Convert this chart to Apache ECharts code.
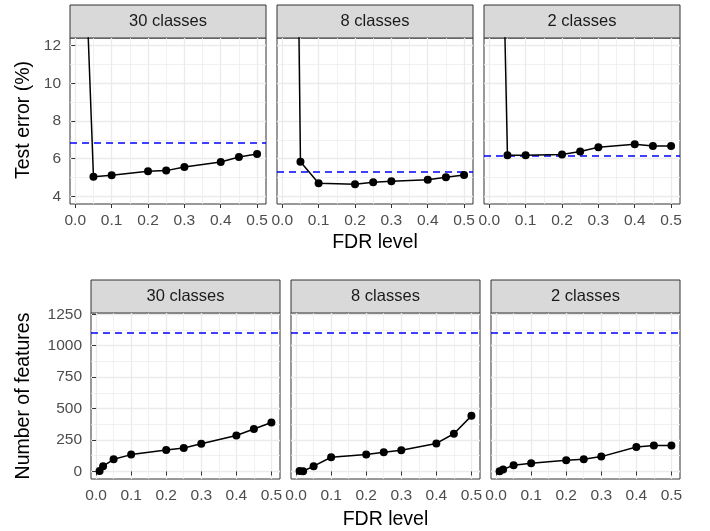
<!DOCTYPE html>
<html>
<head>
<meta charset="utf-8">
<script src="https://cdn.jsdelivr.net/npm/echarts@6/dist/echarts.min.js"></script>
<style>
  html, body { margin: 0; padding: 0; background: #fff; }
  #chart { width: 710px; height: 531px; }
</style>
</head>
<body>
<div id="chart"></div>
<script>
// Data
const classLabels = ['30 classes', '8 classes', '2 classes'];
const fdrLevels = [0.01, 0.02, 0.05, 0.1, 0.2, 0.25, 0.3, 0.4, 0.45, 0.5];

// test error (%) per FDR level; the first two points sit far above the plotted range
const errors30 = [22, 20.5, 5.04, 5.12, 5.33, 5.37, 5.56, 5.83, 6.09, 6.25];
const errors8 = [60, 55, 5.84, 4.70, 4.65, 4.75, 4.81, 4.89, 5.02, 5.14];
const errors2 = [35, 33.5, 6.19, 6.19, 6.23, 6.38, 6.61, 6.77, 6.68, 6.68];

// number of selected features per FDR level
const features30 = [3, 42, 97, 134, 171, 187, 221, 286, 337, 389];
const features8 = [3, 2, 42, 113, 134, 152, 168, 223, 300, 442];
const features2 = [2, 16, 50, 66, 89, 97, 118, 195, 207, 207];

// dashed reference lines (all features)
const baselineError = [6.86, 5.32, 6.17];
const baselineFeatures = [1104, 1104, 1104];

// tick labels
const fdrTicks = [0, 0.1, 0.2, 0.3, 0.4, 0.5];
const fdrMinor = [0.05, 0.15, 0.25, 0.35, 0.45];
const errorTicks = [4, 6, 8, 10, 12];
const errorMinor = [5, 7, 9, 11];
const featureTicks = [0, 250, 500, 750, 1000, 1250];
const featureMinor = [125, 375, 625, 875, 1125];

const FONT = '"Liberation Sans", Arial, Helvetica, sans-serif';
const container = echarts.init(document.getElementById('chart'));

/*
* Layout of the six panels
*/
const panels = [
    { left: 70,  top: 38,  width: 196, height: 166, row: 0 },
    { left: 277, top: 38,  width: 196, height: 166, row: 0 },
    { left: 484, top: 38,  width: 196, height: 166, row: 0 },
    { left: 91,  top: 313, width: 189, height: 166, row: 1 },
    { left: 291, top: 313, width: 189, height: 166, row: 1 },
    { left: 491, top: 313, width: 189, height: 166, row: 1 }
];
const X_RANGE = [-0.0145, 0.5245];
const Y_RANGE = [[3.6, 12.4], [-60, 1260]];

// one axis for the major grid (ticks + labels), one hidden axis for the minor grid
const axisPair = (gridIndex, range, major, minor, fmt, showLabels) => {
    const main = {
        type: 'value', gridIndex: gridIndex, min: range[0], max: range[1],
        axisLine: { show: false },
        axisTick: { show: showLabels, length: 4, customValues: major, lineStyle: { color: '#333333', width: 1 } },
        axisLabel: { show: showLabels, customValues: major, formatter: fmt, color: '#4D4D4D', fontSize: 15.5, fontFamily: FONT, margin: 9 },
        splitLine: { show: true, lineStyle: { color: '#EBEBEB', width: 1.3 } }
    };
    const sub = {
        type: 'value', gridIndex: gridIndex, min: range[0], max: range[1],
        axisLine: { show: false },
        axisTick: { show: false, customValues: minor },
        axisLabel: { show: false },
        splitLine: { show: true, lineStyle: { color: '#EDEDED', width: 0.8 } }
    };
    return [main, sub];
};

const grids = [], xAxes = [], yAxes = [], series = [], graphics = [];
const seriesValues = [errors30, errors8, errors2, features30, features8, features2];
const baselines = baselineError.concat(baselineFeatures);

panels.forEach((p, g) => {
    grids.push({
        left: p.left, top: p.top, width: p.width, height: p.height,
        show: true, backgroundColor: '#FFFFFF', borderColor: '#333333', borderWidth: 1,
        containLabel: false, outerBoundsMode: 'none'
    });
    xAxes.push(...axisPair(g, X_RANGE, fdrTicks, fdrMinor, (v) => v.toFixed(1), true));
    yAxes.push(...axisPair(g, Y_RANGE[p.row], p.row === 0 ? errorTicks : featureTicks,
        p.row === 0 ? errorMinor : featureMinor, (v) => String(v), g % 3 === 0));

    const values = seriesValues[g];
    series.push({
        type: 'line',
        xAxisIndex: 2 * g,
        yAxisIndex: 2 * g,
        data: fdrLevels.map((x, i) => [x, values[i]]),
        symbol: 'circle',
        symbolSize: 8,
        showAllSymbol: true,
        clip: true,
        silent: true,
        z: 3,
        lineStyle: { color: '#000000', width: 1.5 },
        itemStyle: { color: '#000000' },
        markLine: {
            symbol: ['none', 'none'],
            silent: true,
            z: 2,
            label: { show: false },
            itemStyle: { color: '#0000FF' },
            lineStyle: { color: '#0000FF', type: [7, 5], width: 1.5, opacity: 1 },
            data: [{ yAxis: baselines[g], lineStyle: { color: '#0000FF' } }]
        }
    });

    // facet strip
    graphics.push({
        type: 'rect',
        shape: { x: p.left, y: p.top - 33, width: p.width, height: 33 },
        style: { fill: '#D9D9D9', stroke: '#333333', lineWidth: 1 }
    });
    graphics.push({
        type: 'text',
        x: p.left + p.width / 2, y: p.top - 16.5,
        style: {
            text: classLabels[g % 3], fill: '#1A1A1A', fontSize: 16.5, fontFamily: FONT,
            align: 'center', verticalAlign: 'middle', textAlign: 'center', textVerticalAlign: 'middle'
        }
    });
});

// axis titles
const titleText = (text, x, y, rotated) => ({
    type: 'text', x: x, y: y, rotation: rotated ? Math.PI / 2 : 0,
    style: {
        text: text, fill: '#000000', fontSize: 19.5, fontFamily: FONT,
        align: 'center', verticalAlign: 'middle', textAlign: 'center', textVerticalAlign: 'middle'
    }
});
graphics.push(titleText('FDR level', 375, 243, false));
graphics.push(titleText('FDR level', 385.5, 520, false));
graphics.push(titleText('Test error (%)', 24, 120, true));
graphics.push(titleText('Number of features', 23.5, 396, true));

container.setOption({
    animation: false,
    backgroundColor: '#FFFFFF',
    grid: grids,
    xAxis: xAxes,
    yAxis: yAxes,
    series: series,
    graphic: { elements: graphics }
});
</script>
</body>
</html>
